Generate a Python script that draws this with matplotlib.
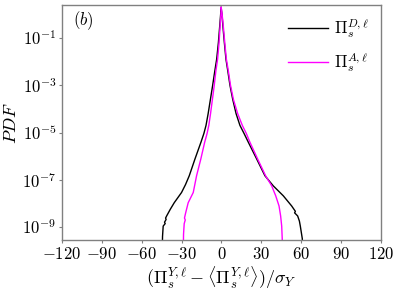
import math
import matplotlib
matplotlib.use("Agg")
import matplotlib.pyplot as plt
from matplotlib.ticker import FixedLocator, FuncFormatter, NullLocator

plt.rcParams["mathtext.fontset"] = "cm"
plt.rcParams["font.family"] = "serif"
plt.rcParams["font.serif"] = ["DejaVu Serif"]

# ── data (x, PDF) ────────────────────────────────────────────────────
x_D = [-44.5, -44.3, -43.8, -42.3, -42.8, -41.6, -42.0, -41.2, -38.5, -35.5,
       -30.0, -27.0, -24.2, -19.9, -15.4, -13.2, -11.6, -10.0, -8.3, -6.6,
       -5.0, -3.6, -2.3, -1.3, -0.6, -0.3,
       0.4, 1.1, 2.2, 3.4, 4.8, 6.4, 8.5, 11.0, 13.9, 17.0, 20.2, 26.5, 32.7,
       39.0, 46.5, 52.8, 55.6, 55.0, 57.3, 58.6, 59.3, 60.8, 61.0]
pdf_D = [1e-10, 4.0e-10, 1.1e-9, 1.4e-9, 1.6e-9, 2.1e-9, 2.4e-9, 2.95e-9,
         5.6e-9, 1.07e-8, 2.9e-8, 6.3e-8, 1.48e-7, 7.6e-7, 3.9e-6, 9.1e-6,
         2.0e-5, 6.3e-5, 2.5e-4, 1.0e-3, 3.98e-3, 1.26e-2, 6.3e-2, 3.16e-1,
         1.0, 2.04,
         1.0, 3.16e-1, 6.3e-2, 1.26e-2, 3.98e-3, 1.0e-3, 2.5e-4, 6.3e-5,
         2.0e-5, 9.1e-6, 3.9e-6, 7.6e-7, 1.48e-7, 5.5e-8, 2.1e-8, 7.8e-9,
         4.6e-9, 4.0e-9, 2.95e-9, 1.8e-9, 1.1e-9, 3.2e-10, 1e-10]

x_A = [-28.7, -28.5, -28.0, -27.2, -27.8, -26.9, -25.0, -21.2, -18.7, -15.5,
       -12.6, -10.8, -9.5, -8.2, -6.8, -5.4, -4.2, -2.9, -1.8, -1.0, -0.4,
       -0.2,
       0.5, 1.4, 2.5, 3.7, 5.2, 6.8, 9.0, 12.2, 15.7, 18.7, 21.4, 27.2, 33.2,
       37.8, 40.8, 43.3, 44.5, 45.3, 45.7, 45.8]
pdf_A = [1e-10, 5.0e-10, 1.4e-9, 2.0e-9, 2.4e-9, 4.0e-9, 1.07e-8, 2.9e-8,
         1.48e-7, 7.6e-7, 3.9e-6, 9.1e-6, 2.0e-5, 6.3e-5, 2.5e-4, 1.0e-3,
         3.98e-3, 1.26e-2, 6.3e-2, 3.16e-1, 1.0, 2.04,
         1.0, 3.16e-1, 6.3e-2, 1.26e-2, 3.98e-3, 1.0e-3, 2.5e-4, 6.3e-5,
         2.0e-5, 9.1e-6, 3.9e-6, 7.6e-7, 1.48e-7, 5.5e-8, 2.1e-8, 7.8e-9,
         2.95e-9, 1.1e-9, 3.2e-10, 1e-10]

x_ticks = [-120, -90, -60, -30, 0, 30, 60, 90, 120]
y_ticks = [1e-9, 1e-7, 1e-5, 1e-3, 1e-1]

fig = plt.figure(figsize=(3.99, 2.90), dpi=100)
ax = fig.add_axes([0.155, 0.172, 0.800, 0.811])

ax.plot(x_D, pdf_D, color="black", lw=1.0, label=r"$\Pi_s^{D,\ell}$")
ax.plot(x_A, pdf_A, color="#ff00ff", lw=1.0, label=r"$\Pi_s^{A,\ell}$")

ax.set_yscale("log")
ax.set_xlim(-120, 120)
ax.set_ylim(2.8e-10, 2.5)

ax.xaxis.set_major_locator(FixedLocator(x_ticks))
ax.xaxis.set_major_formatter(FuncFormatter(lambda v, p: r"$%d$" % v))
ax.yaxis.set_major_locator(FixedLocator(y_ticks))
ax.yaxis.set_major_formatter(
    FuncFormatter(lambda v, p: r"$10^{%d}$" % round(math.log10(v))))
ax.yaxis.set_minor_locator(NullLocator())

for s in ax.spines.values():
    s.set_color("#808080")
    s.set_linewidth(1.0)
ax.tick_params(axis="both", which="major", length=2, width=0.8,
               color="#808080", labelsize=12, pad=2)

ax.set_xlabel(r"$(\Pi_s^{Y,\ell}-\langle\Pi_s^{Y,\ell}\rangle)/\sigma_Y$",
              fontsize=13, labelpad=1)
ax.set_ylabel(r"$PDF$", fontsize=13)
ax.yaxis.set_label_coords(-0.13, 0.5)

ax.text(0.035, 0.935, r"$(b)$", transform=ax.transAxes, fontsize=12,
        ha="left", va="center")

leg = ax.legend(loc="upper right", frameon=False, fontsize=12,
                handlelength=2.4, handletextpad=0.4, labelspacing=0.6,
                borderaxespad=0.3)

fig.savefig("out.png", dpi=100)
